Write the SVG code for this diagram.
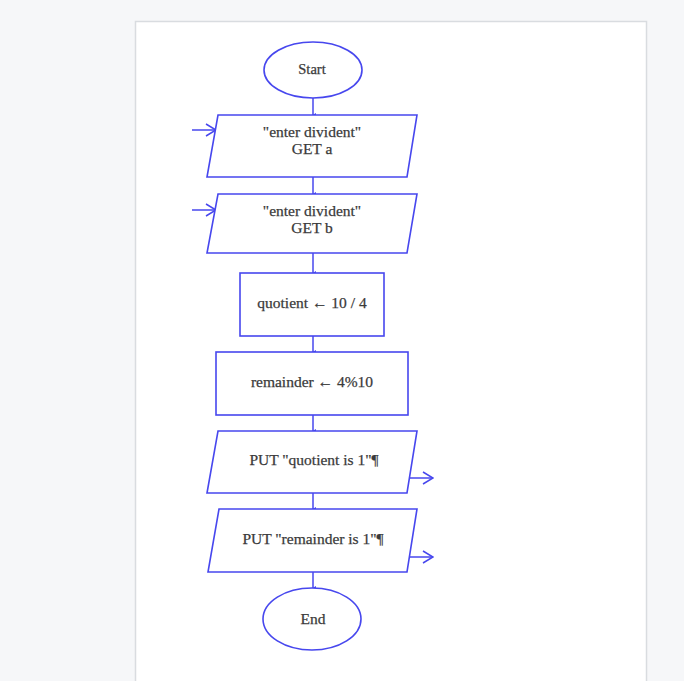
<svg xmlns="http://www.w3.org/2000/svg" width="684" height="681" viewBox="0 0 684 681">
<defs>
<style>
.s{fill:#ffffff;stroke:#4747ee;stroke-width:1.6}
.c{fill:none;stroke:#4747ee;stroke-width:1.5}
.t{font-family:"Liberation Serif","Times New Roman",serif;font-size:15.5px;fill:#3a3a3a;stroke:#3a3a3a;stroke-width:0.25;text-anchor:middle}
</style>
<marker id="dot" viewBox="0 0 6 6" refX="3" refY="5" markerWidth="6" markerHeight="6" orient="auto-start-reverse" markerUnits="userSpaceOnUse">
<path d="M1,2 L3,5.5 L5,2 Z" fill="#4747ee"/>
</marker>
<marker id="open" viewBox="0 0 14 14" refX="13" refY="7" markerWidth="14" markerHeight="14" orient="auto" markerUnits="userSpaceOnUse">
<path d="M3,1 L13,7 L3,13" fill="none" stroke="#4747ee" stroke-width="1.5"/>
</marker>
</defs>
<rect x="0" y="0" width="684" height="681" fill="#f6f7f9"/>
<rect x="135.5" y="21.5" width="511" height="670" fill="#ffffff" stroke="#d9dce0" stroke-width="1.5"/>
<g id="connectors">
<line class="c" x1="313" y1="98" x2="313" y2="115" marker-end="url(#dot)"/>
<line class="c" x1="313" y1="177" x2="313" y2="194" marker-end="url(#dot)"/>
<line class="c" x1="313" y1="253" x2="313" y2="273" marker-end="url(#dot)"/>
<line class="c" x1="313" y1="336" x2="313" y2="352" marker-end="url(#dot)"/>
<line class="c" x1="313" y1="415" x2="313" y2="431" marker-end="url(#dot)"/>
<line class="c" x1="313" y1="493" x2="313" y2="509" marker-end="url(#dot)"/>
<line class="c" x1="313" y1="572" x2="313" y2="588" marker-end="url(#dot)"/>
<line class="c" x1="192" y1="130" x2="216" y2="130" marker-end="url(#open)"/>
<line class="c" x1="192" y1="210" x2="216" y2="210" marker-end="url(#open)"/>
<line class="c" x1="409" y1="478" x2="433" y2="478" marker-end="url(#open)"/>
<line class="c" x1="409" y1="557" x2="433" y2="557" marker-end="url(#open)"/>
</g>
<g id="start">
<ellipse class="s" cx="313" cy="70" rx="49" ry="28"/>
<text class="t" x="312" y="74" style="font-size:14.5px">Start</text>
</g>
<g id="get-a">
<polygon class="s" points="218,115 417,115 407,177 207,177"/>
<text class="t" x="312" y="137">"enter divident"</text>
<text class="t" x="312" y="154">GET a</text>
</g>
<g id="get-b">
<polygon class="s" points="218,194 417,194 407,253 207,253"/>
<text class="t" x="312" y="216">"enter divident"</text>
<text class="t" x="312" y="233">GET b</text>
</g>
<g id="quotient">
<rect class="s" x="240" y="273" width="144" height="63"/>
<text class="t" x="312" y="308">quotient ← 10 / 4</text>
</g>
<g id="remainder">
<rect class="s" x="216" y="352" width="192" height="63"/>
<text class="t" x="312" y="387">remainder ← 4%10</text>
</g>
<g id="put-quotient">
<polygon class="s" points="218,431 417,431 407,493 207,493"/>
<text class="t" x="314" y="465">PUT "quotient is 1"¶</text>
</g>
<g id="put-remainder">
<polygon class="s" points="219,509 417,509 407,572 208,572"/>
<text class="t" x="313" y="544">PUT "remainder is 1"¶</text>
</g>
<g id="end">
<ellipse class="s" cx="312" cy="619" rx="49" ry="31"/>
<text class="t" x="313" y="624">End</text>
</g>
</svg>
